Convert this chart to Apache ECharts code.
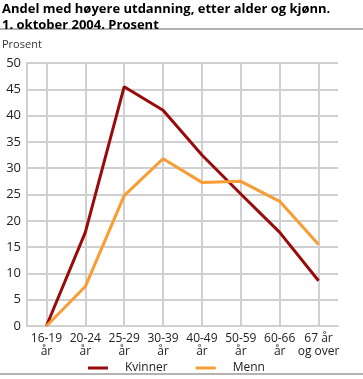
<!DOCTYPE html>
<html><head><meta charset="utf-8">
<script src="https://cdn.jsdelivr.net/npm/echarts@6/dist/echarts.min.js"></script>
<style>html,body{margin:0;padding:0;background:#fff}#c{width:363px;height:379px}</style>
</head><body><div id="c"></div>
<script>
var categories = ['16-19\når','20-24\når','25-29\når','30-39\når','40-49\når','50-59\når','60-66\når','67 år\nog over'];
var kvinner = [0, 17.8, 45.5, 41.0, 32.5, 25.1, 17.8, 8.6];
var menn = [0, 7.5, 24.8, 31.8, 27.3, 27.5, 23.7, 15.5];
var yTicks = [0,5,10,15,20,25,30,35,40,45,50];
var F = '"Open Sans", "Noto Sans", sans-serif';
var chart = echarts.init(document.getElementById('c'));
chart.setOption({
  animation:false,
  title:{text:'Andel med høyere utdanning, etter alder og kjønn.\n1. oktober 2004. Prosent', left:2, top:1, padding:0,
    textStyle:{fontFamily:F,fontSize:13,fontWeight:'bold',color:'#000',lineHeight:16}},
  graphic:[
    {type:'line',shape:{x1:0,y1:29,x2:363,y2:29},style:{stroke:'#9a9a9a',lineWidth:1.5}},
    {type:'line',shape:{x1:0,y1:374,x2:363,y2:374},style:{stroke:'#9a9a9a',lineWidth:1.5}},
    {type:'text',left:2,top:39,style:{text:'Prosent',font:'11px '+F,fill:'#333'}}
  ],
  legend:{top:362,left:88,padding:0,itemWidth:20,itemHeight:3,itemGap:28,icon:'rect',
    textStyle:{fontFamily:F,fontSize:12,color:'#222',padding:[0,0,0,12]},
    data:['Kvinner','Menn']},
  grid:{left:27,right:25,top:63,bottom:53,containLabel:false},
  xAxis:{type:'category',data:categories,boundaryGap:true,
    axisLine:{show:true,lineStyle:{color:'#d0d0d0',width:2}},
    axisTick:{show:false},
    splitLine:{show:true,alignWithLabel:true,lineStyle:{color:'#d0d0d0',width:2}},
    axisLabel:{fontFamily:F,fontSize:12,color:'#222',lineHeight:13,margin:6,interval:0}},
  yAxis:{type:'value',min:0,max:50,interval:5,
    axisLine:{show:true,lineStyle:{color:'#d0d0d0',width:2}},
    axisTick:{show:false},
    splitLine:{show:true,lineStyle:{color:'#d0d0d0',width:2}},
    axisLabel:{fontFamily:F,fontSize:13,color:'#222',margin:6,
      formatter:function(v){return yTicks.indexOf(v)>=0?String(v):'';}}},
  series:[
    {name:'Kvinner',type:'line',data:kvinner,symbol:'none',lineStyle:{color:'#990a0a',width:3},itemStyle:{color:'#990a0a'}},
    {name:'Menn',type:'line',data:menn,symbol:'none',lineStyle:{color:'#f89c34',width:3},itemStyle:{color:'#f89c34'}}
  ]
});
</script></body></html>
